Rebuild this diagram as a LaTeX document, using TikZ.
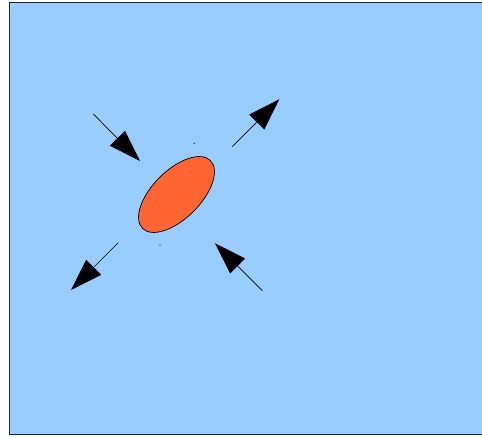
\documentclass[tikz,border=0pt]{standalone}
\usetikzlibrary{shapes.geometric, arrows.meta}

\definecolor{skyblue}{HTML}{99CCFF}
\definecolor{blobred}{HTML}{FF6633}

\begin{document}
\begin{tikzpicture}[
    x=1pt, y=-1pt,
    >={Triangle[length=32pt, width=21pt]},
    frame/.style={
        draw=black!85,
        fill=skyblue,
        line width=1.2pt
    },
    blob/.style={
        ellipse,
        draw=black,
        fill=blobred,
        line width=0.7pt,
        minimum width=96pt,
        minimum height=48pt,
        inner sep=0pt,
        rotate=45
    },
    force/.style={
        ->,
        line width=0.7pt
    },
    speck/.style={
        circle,
        fill=black,
        inner sep=0pt,
        minimum size=1.2pt
    }
]
\useasboundingbox (0,0) rectangle (482,438);

% Background panel
\path[frame] (9.7,2.7) rectangle (484,434.3);

% Deformed particle
\node[blob] (particle) at (176.5,194.5) {};
\node[speck] (speckA) at (194.3,143.3) {};
\node[speck] (speckB) at (160,245) {};

% Arrow ends
\coordinate (inNWtail) at (93.3,114);
\coordinate (inNWtip) at (140,161);
\coordinate (outNEtail) at (232.3,146.7);
\coordinate (outNEtip) at (279.3,99.3);
\coordinate (outSWtail) at (118.3,242.7);
\coordinate (outSWtip) at (71,290);
\coordinate (inSEtail) at (262.3,290.7);
\coordinate (inSEtip) at (215,243.3);

% Compression along one diagonal, stretching along the other
\draw[force] (inNWtail) -- (inNWtip);
\draw[force] (inSEtail) -- (inSEtip);
\draw[force] (outNEtail) -- (outNEtip);
\draw[force] (outSWtail) -- (outSWtip);

\end{tikzpicture}
\end{document}
